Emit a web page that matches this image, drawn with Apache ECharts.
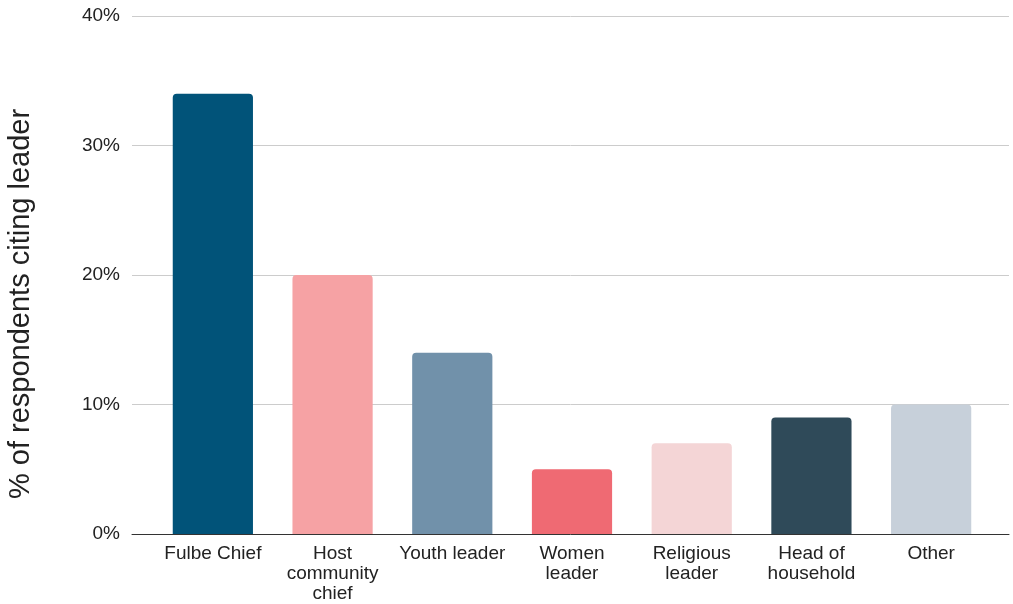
<!DOCTYPE html>
<html><head><meta charset="utf-8">
<script src="https://cdn.jsdelivr.net/npm/echarts@6/dist/echarts.min.js"></script>
<style>html,body{margin:0;padding:0;background:#fff}#c{width:1013px;height:604px}</style>
</head><body><div id="c"></div>
<script>
const categories = ["Fulbe Chief", "Host\ncommunity\nchief", "Youth leader", "Women\nleader", "Religious\nleader", "Head of\nhousehold", "Other"];
const values = [34, 20, 14, 5, 7, 9, 10];
const colors = ["#015379", "#F6A2A4", "#7191AA", "#EF6A73", "#F4D5D6", "#2F4A59", "#C7D0DA"];
const yTicks = [0, 10, 20, 30, 40];
const yTitle = "% of respondents citing leader";

const chart = echarts.init(document.getElementById('c'), null, {renderer: 'canvas'});
const font = "'Liberation Sans', Arial, sans-serif";
chart.setOption({
  animation: false,
  grid: [
    {left: 132, right: 4, top: 16, bottom: 70, containLabel: false},
    {left: 153, right: 22, top: 16, bottom: 70, containLabel: false}
  ],
  xAxis: [
    {gridIndex: 0, type: 'category', data: [''], axisLine: {show: true, lineStyle: {color: '#333', width: 1}}, axisTick: {show: false}, axisLabel: {show: false}},
    {gridIndex: 1, type: 'category', data: categories, axisLine: {show: false}, axisTick: {show: false},
     axisLabel: {interval: 0, color: '#222', fontSize: 19, fontFamily: font, lineHeight: 20, margin: 10}}
  ],
  yAxis: [
    {gridIndex: 0, type: 'value', min: yTicks[0], max: yTicks[yTicks.length-1], interval: 10,
     axisLine: {show: false}, axisTick: {show: false},
     axisLabel: {formatter: v => v + '%', color: '#222', fontSize: 19, fontFamily: font, margin: 12},
     splitLine: {lineStyle: {color: '#ccc', width: 1}}},
    {gridIndex: 1, type: 'value', min: yTicks[0], max: yTicks[yTicks.length-1], interval: 10, show: false}
  ],
  graphic: [{
    type: 'text', x: 21, y: 304, rotation: Math.PI/2,
    style: {text: yTitle, fontSize: 29, fontFamily: font, fill: '#222', align: 'center', verticalAlign: 'middle'}
  }],
  series: [{
    type: 'bar', xAxisIndex: 1, yAxisIndex: 1, barWidth: '67%',
    data: values.map((v, i) => ({value: v, itemStyle: {color: colors[i], borderRadius: [4, 4, 0, 0]}}))
  }]
});
</script></body></html>
